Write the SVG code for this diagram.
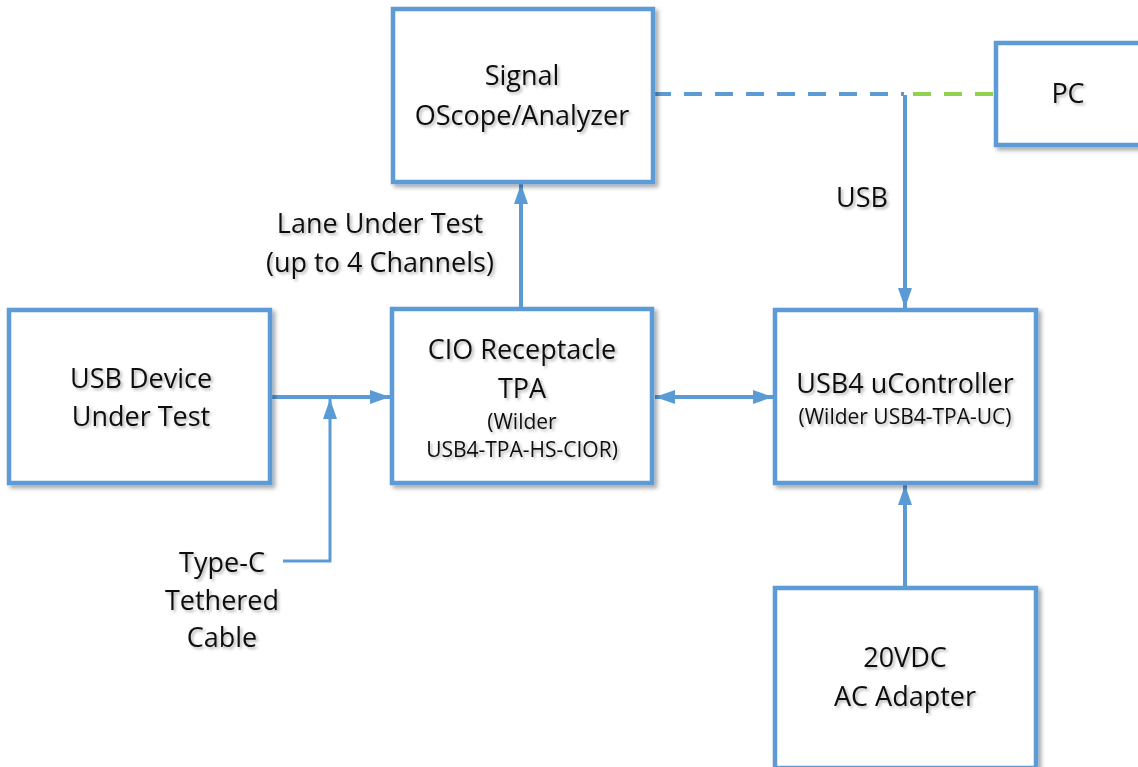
<svg xmlns="http://www.w3.org/2000/svg" width="1138" height="767" viewBox="0 0 1138 767">
<defs>
<style>
.box{fill:#fff;stroke:#5B9BD5;stroke-width:4.5;filter:url(#sh)}
.t{font-family:"Open Sans","Liberation Sans",sans-serif;fill:#111;text-anchor:middle;filter:url(#tsh)}
.big{font-size:27px}
.sm{font-size:21px}
.ln{fill:none;stroke:#5B9BD5;stroke-width:4}
</style>
<filter id="sh" x="-10%" y="-10%" width="125%" height="125%">
<feDropShadow dx="3" dy="3" stdDeviation="2" flood-color="#000" flood-opacity="0.35"/>
</filter>
<filter id="tsh" x="-10%" y="-30%" width="130%" height="170%">
<feDropShadow dx="2" dy="2" stdDeviation="1.5" flood-color="#000" flood-opacity="0.3"/>
</filter>
<marker id="ah" viewBox="0 0 20 14" refX="20" refY="7" markerWidth="20" markerHeight="14" markerUnits="userSpaceOnUse" orient="auto-start-reverse">
<path d="M0,0 L20,7 L0,14 z" fill="#5B9BD5"/>
</marker>
</defs>
<g id="connectors">
<line x1="653" y1="94" x2="904" y2="94" stroke="#5B9BD5" stroke-width="4" stroke-dasharray="18,13"/>
<line x1="910" y1="94" x2="996" y2="94" stroke="#92D050" stroke-width="4" stroke-dasharray="18,13" stroke-dashoffset="-3"/>
<line class="ln" x1="905" y1="95" x2="905" y2="308" marker-end="url(#ah)"/>
<line class="ln" x1="521" y1="307" x2="521" y2="184" marker-end="url(#ah)"/>
<line class="ln" x1="272" y1="397" x2="390" y2="397" marker-end="url(#ah)"/>
<polyline points="283,561 330,561 330,399" fill="none" stroke="#5B9BD5" stroke-width="3" marker-end="url(#ah)"/>
<line class="ln" x1="655" y1="397" x2="773" y2="397" marker-start="url(#ah)" marker-end="url(#ah)"/>
<line class="ln" x1="905" y1="587" x2="905" y2="485" marker-end="url(#ah)"/>
</g>
<g id="signal">
<rect class="box" x="393" y="9" width="260" height="173"/>
<text class="t big" x="522" y="85">Signal</text>
<text class="t big" x="522" y="125">OScope/Analyzer</text>
</g>
<g id="pc">
<rect class="box" x="996" y="43" width="150" height="102"/>
<text class="t big" x="1068" y="103">PC</text>
</g>
<g id="usbdev">
<rect class="box" x="9" y="310" width="261" height="173"/>
<text class="t big" x="141" y="388">USB Device</text>
<text class="t big" x="141" y="426">Under Test</text>
</g>
<g id="cio">
<rect class="box" x="392" y="309" width="260" height="174"/>
<text class="t big" x="522" y="359">CIO Receptacle</text>
<text class="t big" x="522" y="398">TPA</text>
<text class="t sm" x="522" y="429">(Wilder</text>
<text class="t sm" x="522" y="457">USB4-TPA-HS-CIOR)</text>
</g>
<g id="usb4">
<rect class="box" x="775" y="310" width="261" height="173"/>
<text class="t big" x="905" y="393">USB4 uController</text>
<text class="t sm" x="905" y="424">(Wilder USB4-TPA-UC)</text>
</g>
<g id="adapter">
<rect class="box" x="775" y="588" width="261" height="180"/>
<text class="t big" x="905" y="667">20VDC</text>
<text class="t big" x="905" y="706">AC Adapter</text>
</g>
<g id="labels">
<text class="t big" x="380" y="233">Lane Under Test</text>
<text class="t big" x="380" y="272">(up to 4 Channels)</text>
<text class="t big" x="862" y="207">USB</text>
<text class="t big" x="222" y="572">Type-C</text>
<text class="t big" x="222" y="610">Tethered</text>
<text class="t big" x="222" y="647">Cable</text>
</g>
</svg>
